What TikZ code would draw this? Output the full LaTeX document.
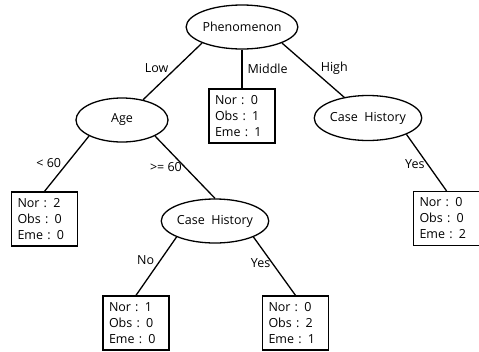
\documentclass[tikz,border=0pt]{standalone}
\usepackage{fontspec}
\setmainfont{Open Sans}
\usetikzlibrary{shapes.geometric}

\begin{document}
\begin{tikzpicture}[
        x=1pt, y=-1pt, % pixel-like units, y runs downward
        font=\fontsize{12.5}{16}\selectfont,
        % Define a style for the attribute (test) nodes
        attr_node/.style={ellipse,draw,line width=1.3pt,inner sep=0pt,minimum width=92pt,minimum height=44pt},
        % Define a style for the class count boxes at the leaves
        leaf_box/.style={rectangle,draw,line width=1.3pt,align=left,text width=54pt,inner xsep=6pt,minimum height=54pt},
        % Define a style for the branch lines and their labels
        branch/.style={line width=1.3pt},
        branch_label/.style={inner sep=2pt}
    ]

    % Fix the margins of the figure
    \useasboundingbox (0,0) rectangle (479,351);

    % Draw the attribute nodes
    \node[attr_node] (phen) at (242,27) {Phenomenon};
    \node[attr_node] (age) at (122,120) {Age};
    \node[attr_node, minimum height=45pt] (hist1) at (368,118) {Case\ \ History};
    \node[attr_node] (hist2) at (215,221) {Case\ \ History};

    % Draw the leaves
    \node[leaf_box] (mid) at (242,116) {Nor : 0\\Obs : 1\\Eme\ : 1};
    \node[leaf_box] (young) at (44.5,219) {Nor : 2\\Obs : 0\\Eme\ : 0};
    \node[leaf_box] (nohist) at (136,323) {Nor : 1\\Obs : 0\\Eme\ : 0};
    \node[leaf_box] (yeshist) at (295.5,323) {Nor : 0\\Obs : 2\\Eme\ : 1};
    \node[leaf_box] (high) at (446.5,218.5) {Nor : 0\\Obs : 0\\Eme\ : 2};

    % Branches from the root
    \draw[branch] (phen.south west) -- (age) node[branch_label, pos=0.44, left=5pt] {Low};
    \draw[branch] (phen.south) -- (mid.north) node[branch_label, pos=0.49, right=3pt] {Middle};
    \draw[branch] (phen.south east) -- (hist1) node[branch_label, pos=0.47, right=7pt] {High};

    % Branches below Age
    \draw[branch] (age.south west) -- (young.north) node[branch_label, pos=0.49, left=3.5pt] {< 60};
    \draw[branch] (age.south east) -- (hist2.north) node[branch_label, pos=0.5, left=0.5pt] {>= 60};

    % Branches below the two Case History nodes
    \draw[branch] (hist2.south west) -- (nohist.north) node[branch_label, pos=0.39, left=4pt] {No};
    \draw[branch] (hist2.south east) -- (yeshist.north) node[branch_label, pos=0.44, left=-1pt] {Yes};
    \draw[branch] (hist1.south east) -- (high.north) node[branch_label, pos=0.53, left=0.5pt] {Yes};

\end{tikzpicture}
\end{document}
